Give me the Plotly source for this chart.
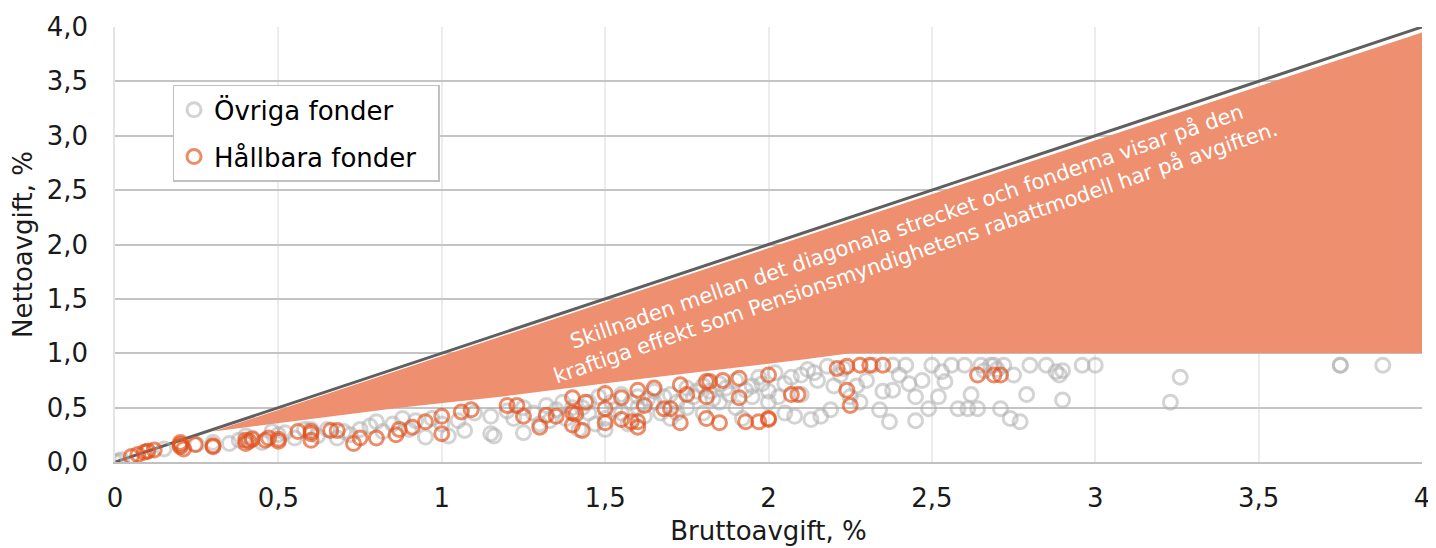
"""Brutto- och nettoavgift för fonder på premiepensionens fondtorg."""

import plotly.graph_objects as go

# Övriga fonder (bruttoavgift, nettoavgift)
ovriga_x = [
    0.0, 0.01, 0.02, 0.1, 0.15, 0.2, 0.25, 0.3, 0.35, 0.38, 0.42, 0.45, 0.5, 0.52,
    0.55, 0.58, 0.62, 0.65, 0.7, 0.72, 0.75, 0.78, 0.8, 0.82, 0.85, 0.88, 0.9, 0.92,
    0.95, 0.97, 1.0, 1.02, 1.05, 1.07, 1.1, 1.15, 1.15, 1.16, 1.2, 1.22, 1.25, 1.25,
    1.28, 1.3, 1.32, 1.35, 1.37, 1.38, 1.4, 1.42, 1.45, 1.45, 1.48, 1.5, 1.5, 1.52,
    1.55, 1.55, 1.57, 1.6, 1.6, 1.62, 1.65, 1.65, 1.67, 1.7, 1.7, 1.72, 1.75, 1.75,
    1.77, 1.8, 1.8, 1.82, 1.85, 1.85, 1.88, 1.9, 1.9, 1.92, 1.95, 1.95, 1.97, 2.0,
    2.0, 2.02, 2.05, 2.05, 2.08, 2.1, 2.1, 2.12, 2.13, 2.15, 2.16, 2.18, 2.19, 2.2,
    2.22, 2.25, 2.28, 2.3, 2.32, 2.34, 2.35, 2.37, 2.38, 2.38, 2.4, 2.42, 2.45, 2.45,
    2.47, 2.49, 2.5, 2.53, 2.54, 2.56, 2.58, 2.6, 2.61, 2.62, 2.64, 2.65, 2.68, 2.7,
    2.71, 2.72, 2.74, 2.75, 2.77, 2.79, 2.8, 2.85, 2.88, 2.89, 2.9, 2.9, 2.96, 3.0,
    3.23, 3.26, 3.75, 3.75, 3.88,
    1.33, 1.43, 1.47, 1.53, 1.58, 1.63, 1.68, 1.72, 1.78, 1.83, 1.87, 1.93, 1.98,
    2.03, 2.07, 2.14, 2.23, 2.27, 2.43, 2.52, 2.66, 2.69, 0.68, 0.6, 0.48, 0.4,
]
ovriga_y = [
    0.0, 0.01, 0.02, 0.1, 0.12, 0.15, 0.16, 0.18, 0.17, 0.2, 0.22, 0.18, 0.25, 0.27,
    0.22, 0.3, 0.24, 0.3, 0.28, 0.25, 0.3, 0.33, 0.37, 0.28, 0.35, 0.4, 0.3, 0.38,
    0.23, 0.4, 0.35, 0.24, 0.38, 0.29, 0.45, 0.42, 0.26, 0.24, 0.47, 0.4, 0.27, 0.5,
    0.45, 0.35, 0.52, 0.48, 0.55, 0.4, 0.5, 0.3, 0.55, 0.45, 0.6, 0.4, 0.3, 0.55,
    0.62, 0.45, 0.35, 0.6, 0.5, 0.42, 0.65, 0.55, 0.45, 0.62, 0.4, 0.55, 0.68, 0.5,
    0.6, 0.7, 0.45, 0.65, 0.55, 0.72, 0.62, 0.75, 0.5, 0.4, 0.7, 0.6, 0.78, 0.65,
    0.55, 0.82, 0.72, 0.45, 0.42, 0.8, 0.62, 0.85, 0.39, 0.75, 0.42, 0.88, 0.48, 0.7,
    0.8, 0.6, 0.55, 0.75, 0.89, 0.48, 0.65, 0.37, 0.66, 0.89, 0.8, 0.89, 0.6, 0.38,
    0.75, 0.49, 0.89, 0.83, 0.74, 0.89, 0.49, 0.89, 0.49, 0.62, 0.49, 0.89, 0.89, 0.85,
    0.49, 0.89, 0.4, 0.8, 0.37, 0.62, 0.89, 0.89, 0.83, 0.8, 0.57, 0.84, 0.89, 0.89,
    0.55, 0.78, 0.89, 0.89, 0.89,
    0.38, 0.5, 0.35, 0.48, 0.55, 0.58, 0.6, 0.45, 0.65, 0.58, 0.68, 0.66, 0.72,
    0.6, 0.78, 0.82, 0.86, 0.7, 0.72, 0.6, 0.84, 0.89, 0.22, 0.3, 0.28, 0.24,
]

# Hållbara fonder (bruttoavgift, nettoavgift)
hallbara_x = [
    0.05, 0.07, 0.09, 0.1, 0.12, 0.2, 0.2, 0.21, 0.2, 0.245, 0.3, 0.3, 0.4, 0.41,
    0.42, 0.4, 0.46, 0.47, 0.5, 0.5, 0.56, 0.6, 0.6, 0.6, 0.66, 0.68, 0.73, 0.75,
    0.8, 0.86, 0.87, 0.91, 0.95, 1.0, 1.0, 1.06, 1.09, 1.2, 1.23, 1.25, 1.3, 1.32,
    1.35, 1.4, 1.4, 1.41, 1.4, 1.43, 1.44, 1.5, 1.5, 1.5, 1.55, 1.55, 1.58, 1.6,
    1.6, 1.6, 1.62, 1.65, 1.68, 1.7, 1.73, 1.73, 1.75, 1.81, 1.82, 1.81, 1.81, 1.85,
    1.86, 1.91, 1.91, 1.93, 1.97, 2.0, 2.0, 2.0, 2.07, 2.09, 2.21, 2.24, 2.28, 2.31,
    2.35, 2.24, 2.25, 2.64, 2.69, 2.71,
]
hallbara_y = [
    0.05, 0.07, 0.09, 0.1, 0.11, 0.14, 0.18, 0.12, 0.16, 0.16, 0.14, 0.15, 0.2, 0.19,
    0.21, 0.17, 0.2, 0.22, 0.19, 0.21, 0.28, 0.26, 0.2, 0.28, 0.29, 0.29, 0.17, 0.22,
    0.22, 0.25, 0.3, 0.32, 0.37, 0.42, 0.26, 0.46, 0.48, 0.52, 0.52, 0.42, 0.32, 0.43,
    0.42, 0.59, 0.45, 0.44, 0.34, 0.29, 0.55, 0.63, 0.49, 0.36, 0.39, 0.59, 0.37, 0.37,
    0.32, 0.66, 0.52, 0.68, 0.49, 0.49, 0.71, 0.36, 0.62, 0.74, 0.74, 0.6, 0.4, 0.36,
    0.75, 0.77, 0.59, 0.37, 0.37, 0.4, 0.8, 0.39, 0.62, 0.62, 0.86, 0.88, 0.89, 0.89,
    0.89, 0.66, 0.52, 0.8, 0.8, 0.8,
]

# Rabatteffekt (ytan mellan diagonalen och fonderna)
rabatt_x = [0.3, 0.87, 1.18, 1.6, 2.1, 2.25, 4.0, 4.0, 0.3]
rabatt_y = [0.28, 0.5, 0.6, 0.76, 0.94, 1.0, 1.0, 3.95, 0.28]

diagonal_x = [0, 4]
diagonal_y = [0, 4]

FONT = "Verdana, DejaVu Sans, sans-serif"

fig = go.Figure()

fig.add_trace(
    go.Scatter(
        x=rabatt_x,
        y=rabatt_y,
        mode="lines",
        fill="toself",
        fillcolor="#ee8f70",
        line=dict(width=0),
        hoverinfo="skip",
        showlegend=False,
    )
)
fig.add_trace(
    go.Scatter(
        x=diagonal_x,
        y=diagonal_y,
        mode="lines",
        line=dict(color="#5f5f5f", width=3),
        hoverinfo="skip",
        showlegend=False,
    )
)
fig.add_trace(
    go.Scatter(
        x=ovriga_x,
        y=ovriga_y,
        mode="markers",
        name="Övriga fonder",
        legendgroup="ovriga",
        marker=dict(
            symbol="circle-open",
            size=14,
            color="rgba(175,175,175,0.55)",
            line=dict(width=3),
        ),
    )
)
fig.add_trace(
    go.Scatter(
        x=hallbara_x,
        y=hallbara_y,
        mode="markers",
        name="Hållbara fonder\u00a0\u00a0",
        legendgroup="hallbara",
        marker=dict(
            symbol="circle-open",
            size=14,
            color="rgba(226,78,25,0.65)",
            line=dict(width=3),
        ),
    )
)

fig.add_annotation(
    x=2.436,
    y=2.05,
    xref="x",
    yref="y",
    text=(
        "Skillnaden mellan det diagonala strecket och fonderna visar på den<br>"
        "kraftiga effekt som Pensionsmyndighetens rabattmodell har på avgiften."
    ),
    showarrow=False,
    textangle=-19,
    font=dict(family=FONT, size=21, color="white"),
)

# sidan har 8 px marginal runt figuren
fig.update_layout(
    width=1428,
    height=540,
    margin=dict(l=107, r=14, t=19, b=86),
    paper_bgcolor="white",
    plot_bgcolor="white",
    separators=", ",
    font=dict(family=FONT, size=26, color="#1a1a1a"),
    legend=dict(
        x=0.044,
        y=0.867,
        xanchor="left",
        yanchor="top",
        bgcolor="white",
        bordercolor="#c0c0c0",
        borderwidth=1.5,
        font=dict(family=FONT, size=26, color="black"),
        itemwidth=30,
        tracegroupgap=10,
    ),
)
fig.update_xaxes(
    range=[0, 4],
    dtick=0.5,
    tick0=0,
    automargin=False,
    showgrid=True,
    gridcolor="#ececec",
    gridwidth=1.5,
    zeroline=False,
    showline=True,
    linecolor="#c0c0c0",
    linewidth=2,
    ticks="",
    ticklabelstandoff=12,
    title=dict(text="Bruttoavgift, %", standoff=10, font=dict(size=26)),
    tickfont=dict(size=26),
)
fig.update_yaxes(
    range=[0, 4],
    dtick=0.5,
    tick0=0,
    tickformat=".1f",
    automargin=False,
    showgrid=True,
    gridcolor="#c4c4c4",
    gridwidth=1.5,
    zeroline=False,
    showline=True,
    linecolor="#e4e4e4",
    linewidth=1.5,
    ticks="",
    ticklabelstandoff=20,
    title=dict(text="Nettoavgift, %", standoff=10, font=dict(size=26)),
    tickfont=dict(size=26),
)

fig.write_html("out.html")
